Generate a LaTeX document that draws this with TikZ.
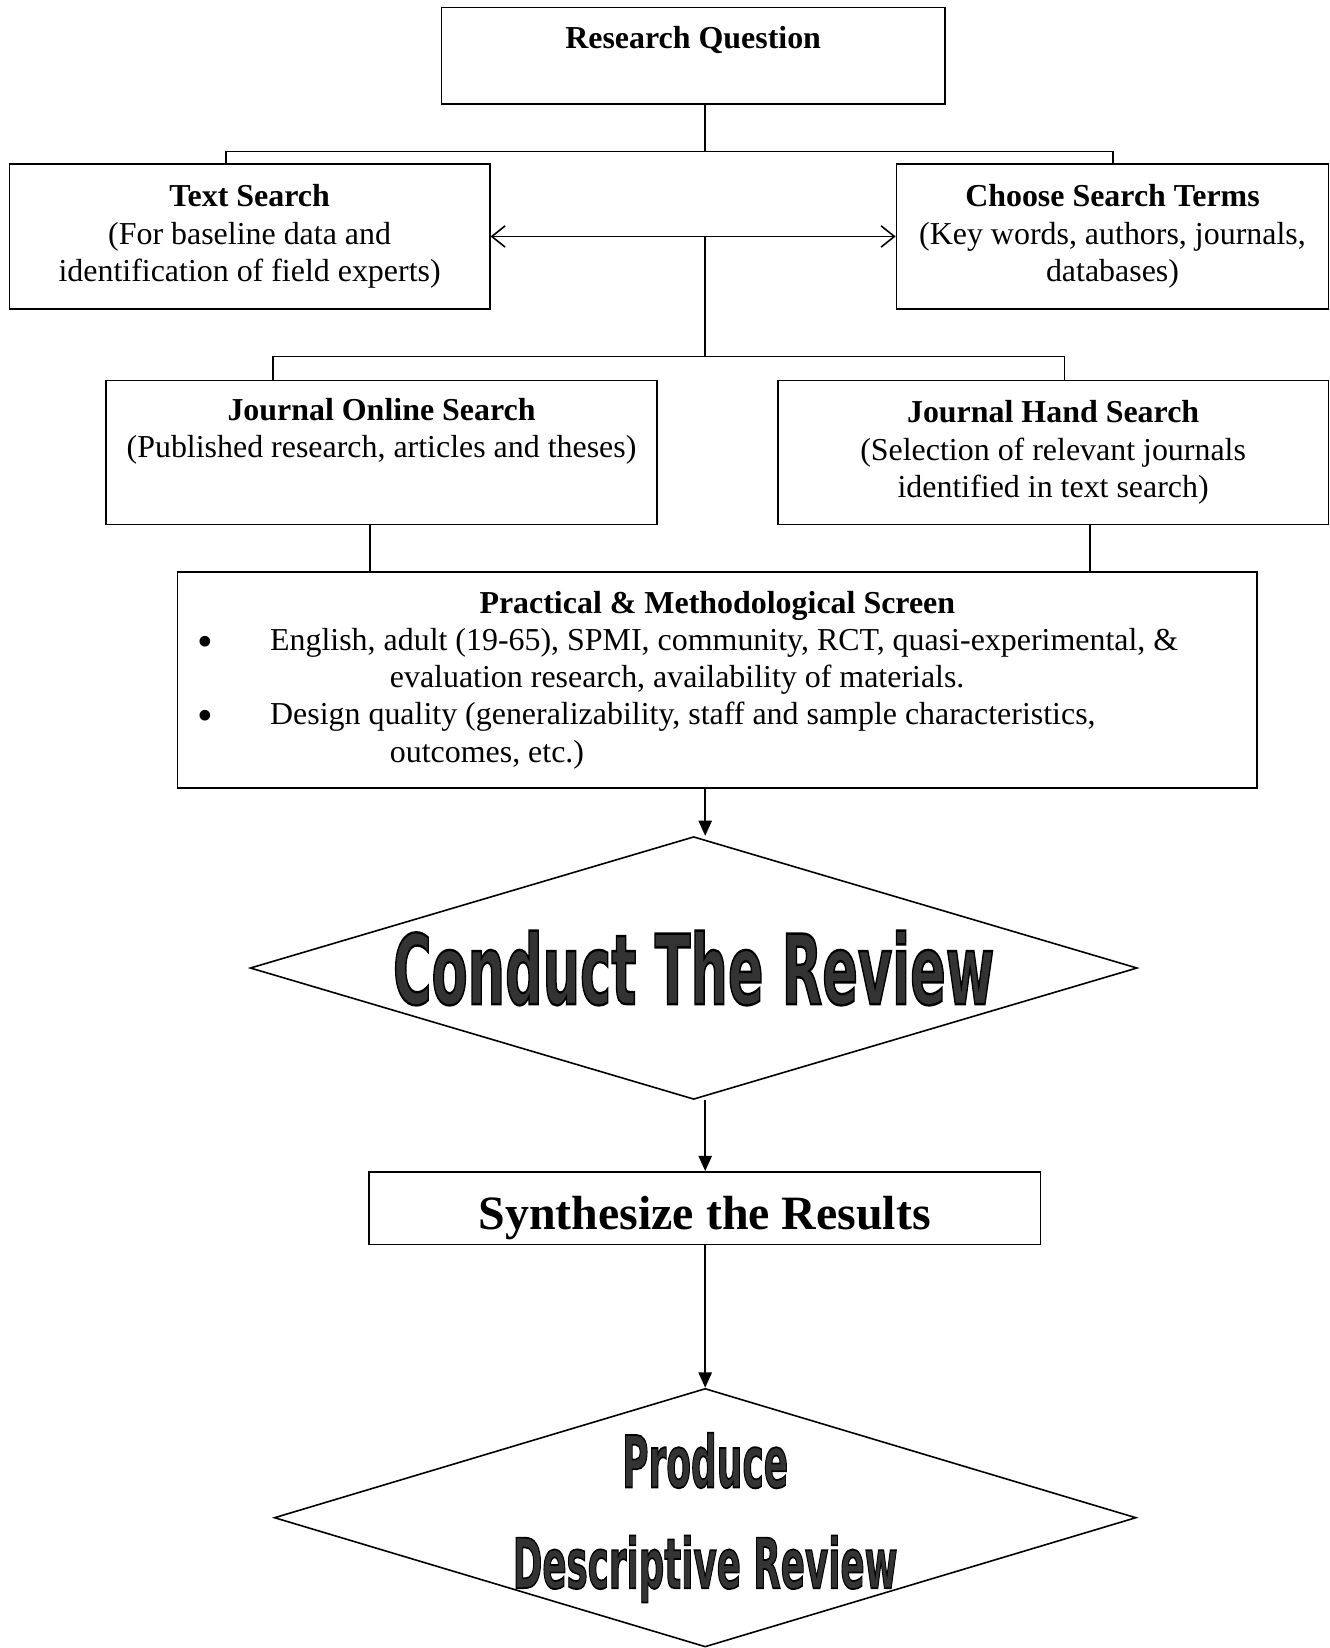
\documentclass[tikz,border=0pt]{standalone}
\usepackage{fontspec}
\setmainfont{Liberation Serif}
\newfontfamily\artfont{DejaVu Sans}
\usepackage{graphicx}
\usepackage{xcolor}
\usepackage{tikz}
\usetikzlibrary{arrows.meta, shapes.geometric}
\definecolor{artgrey}{HTML}{333333}
% outlined, stretched heading text
\newcommand{\wordart}[3]{\resizebox{#1}{#2}{\artfont\bfseries\color{artgrey}\special{pdf:literal direct 2 Tr 0.25 w 0 G}#3\special{pdf:literal direct 0 Tr}}}
\newcommand{\bigdot}{\raisebox{-2.2pt}{\scalebox{1.4}{\textbullet}}}

\begin{document}
\begin{tikzpicture}[x=1cm, y=1cm,
  box/.style={draw, line width=0.6pt, rectangle, align=center, font=\fontsize{12}{14}\selectfont},
  kite/.style={draw, line width=0.6pt, diamond, inner sep=0pt},
  link/.style={line width=0.6pt},
  arr/.style={line width=0.6pt, -{Triangle[length=5.7pt,width=5pt]}},
  twoway/.style={line width=0.6pt, {Straight Barb[length=5pt,width=8pt]}-{Straight Barb[length=5pt,width=8pt]}}]
\useasboundingbox (0,0) rectangle (17.562,21.769);
\coordinate (spine) at (9.315,0);
\coordinate (colA) at (4.887,0);
\coordinate (colB) at (14.397,0);
% question and first split
\node[box, minimum width=6.650cm, minimum height=1.277cm] (rq) at (9.156,21.033) {\textbf{Research Question}\\\mbox{}};
\node[box, minimum width=6.345cm, minimum height=1.916cm] (txt) at (3.297,18.645) {\textbf{Text Search}\\(For baseline data and\\identification of field experts)};
\node[box, minimum width=5.706cm, minimum height=1.916cm] (terms) at (14.695,18.645) {\textbf{Choose Search Terms}\\(Key words, authors, journals,\\databases)};
\coordinate (bar1l) at (2.985,19.769);
\coordinate (bar1r) at (14.702,19.769);
\draw[link] (rq.south -| spine) -- (spine |- bar1l);
\draw[link] (bar1l |- txt.north) -- (bar1l) -- (bar1r) -- (bar1r |- terms.north);
\draw[twoway] (txt.east) -- (terms.west);
% journal searches
\node[box, minimum width=7.275cm, minimum height=1.902cm] (online) at (5.040,15.792) {\textbf{Journal Online Search}\\(Published research, articles and theses)\\\strut};
\node[box, minimum width=7.275cm, minimum height=1.902cm] (hand) at (13.911,15.792) {\textbf{Journal Hand Search}\\(Selection of relevant journals\\identified in text search)};
\coordinate (bar2l) at (3.610,17.062);
\coordinate (bar2r) at (14.063,17.062);
\draw[link] (txt.east -| spine) -- (spine |- bar2l);
\draw[link] (bar2l |- online.north) -- (bar2l) -- (bar2r) -- (bar2r |- hand.north);
% screen
\node[box, minimum width=14.258cm, minimum height=2.860cm, text width=14.258cm, inner sep=0pt, align=left] (screen) at (9.475,12.786) {%
  \spaceskip=0pt\xspaceskip=0pt\relax
  \makebox[14.258cm]{\textbf{Practical \& Methodological Screen}}\\
  \hspace*{0.26cm}\makebox[0.962cm][l]{\bigdot}English, adult (19-65), SPMI, community, RCT, quasi-experimental, \&\\
  \hspace*{2.804cm}evaluation research, availability of materials.\\
  \hspace*{0.26cm}\makebox[0.962cm][l]{\bigdot}Design quality (generalizability, staff and sample characteristics,\\
  \hspace*{2.804cm}outcomes, etc.)};
\draw[link] (online.south -| colA) -- (colA |- screen.north);
\draw[link] (hand.south -| colB) -- (colB |- screen.north);
% review, synthesis, product
\node[kite, minimum width=11.717cm, minimum height=3.471cm] (review) at (9.163,8.982) {};
\node[inner sep=0pt] (reviewtxt) at (review.center) {\wordart{226pt}{27.6pt}{Conduct The Review}};
\node[box, minimum width=8.871cm, inner sep=0pt, text height=21.7pt, text depth=5.6pt, font=\fontsize{18}{20}\selectfont\bfseries] (synth) at (9.309,5.810) {Synthesize the Results};
\node[kite, minimum width=11.384cm, minimum height=3.415cm] (produce) at (9.315,1.721) {};
\node[inner sep=0pt, align=center] (producetxt) at (produce.center) {\wordart{62.4pt}{20.5pt}{Produce}\\[16.7pt]\wordart{144.6pt}{19.8pt}{Descriptive Review}};
\draw[arr] (screen.south -| spine) -- (spine |- review.north);
\draw[arr] (review.south -| spine) -- (spine |- synth.north);
\draw[arr] (synth.south -| spine) -- (produce.north);
\end{tikzpicture}
\end{document}
